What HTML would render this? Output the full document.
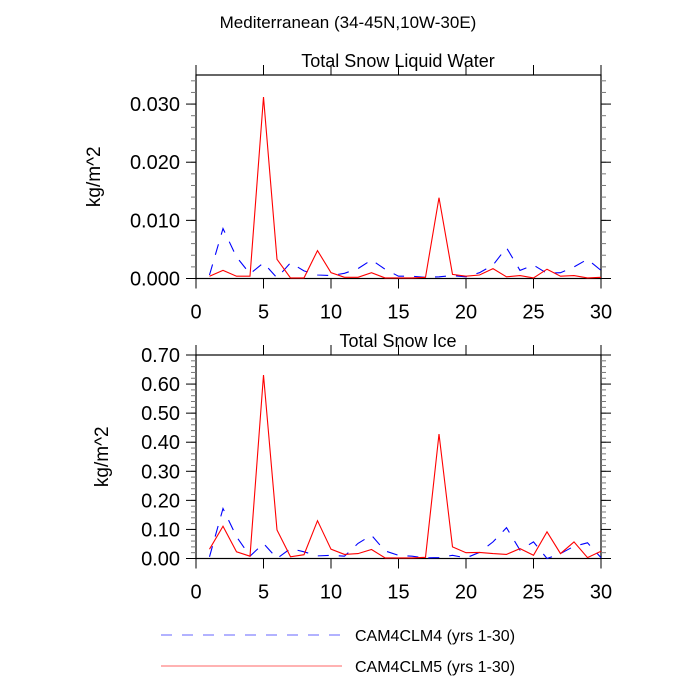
<!DOCTYPE html>
<html><head><meta charset="utf-8"><style>
body{margin:0;background:#fff}
svg{display:block;font-family:"Liberation Sans",sans-serif}
</style></head><body>
<svg id="chart" width="700" height="700" viewBox="0 0 700 700">
<text x="348" y="28" font-size="17" text-anchor="middle">Mediterranean (34-45N,10W-30E)</text>
<g id="legend">
<line x1="161" y1="635" x2="342" y2="635" stroke="#6666ff" stroke-width="1" stroke-dasharray="11,10"/>
<text x="355" y="641" font-size="16">CAM4CLM4 (yrs 1-30)</text>
<line x1="161" y1="666" x2="342" y2="666" stroke="#ff6666" stroke-width="1"/>
<text x="355" y="672" font-size="16">CAM4CLM5 (yrs 1-30)</text>
</g>
</svg>
<script>
const years=[];for(let i=1;i<=30;i++)years.push(i);
const xTicks=[0,5,10,15,20,25,30];
const liqClm4=[0.0006,0.0086,0.0037,0.0008,0.0027,0.0001,0.0027,0.0013,0.0006,0.0005,0.0009,0.0017,0.0032,0.0016,0.0004,0.0004,0.0002,0.0003,0.0005,0.0003,0.001,0.0023,0.0053,0.0014,0.0023,0.0009,0.001,0.002,0.0033,0.0014];
const liqClm5=[0.0004,0.0014,0.0004,0.0004,0.0312,0.0033,0.0001,0.0001,0.0048,0.001,0.0002,0.0002,0.001,0.0001,0.0001,0.0001,0.0002,0.0139,0.0007,0.0004,0.0006,0.0017,0.0003,0.0005,0.0001,0.0016,0.0004,0.0005,0.0001,0.0002];
const liqTicks=["0.000","0.010","0.020","0.030"];
const iceClm4=[0.006,0.172,0.075,0.008,0.052,0.0,0.034,0.023,0.009,0.011,0.008,0.052,0.08,0.026,0.011,0.008,0.002,0.003,0.011,0.002,0.021,0.057,0.106,0.029,0.057,0.0,0.017,0.042,0.054,0.003];
const iceClm5=[0.032,0.111,0.023,0.008,0.631,0.098,0.006,0.013,0.13,0.032,0.014,0.017,0.031,0.002,0.002,0.002,0.004,0.428,0.04,0.02,0.021,0.017,0.014,0.034,0.011,0.092,0.017,0.057,0.003,0.025];
const iceTicks=["0.00","0.10","0.20","0.30","0.40","0.50","0.60","0.70"];

const NS="http://www.w3.org/2000/svg";
const svg=document.getElementById('chart');
function mk(tag,attrs,parent){const e=document.createElementNS(NS,tag);for(const k in attrs)e.setAttribute(k,attrs[k]);(parent||svg).appendChild(e);return e;}

function panel(cfg){
  const g=mk('g',{});
  
  
  const L=196,R=601,T=cfg.top,B=cfg.bottom;
  const sx=v=>L+(v-0)/30*(R-L);
  const sy=v=>B-(v/cfg.ymax)*(B-T);
  const t=mk('text',{x:398,y:T-8,'font-size':18,'text-anchor':'middle'},g);t.textContent=cfg.title;
  
  
  const f=mk('rect',{x:L,y:T,width:R-L,height:B-T,fill:'none',stroke:'#000','stroke-width':1.2},g);
  
  
  xTicks.forEach(v=>{
    const x=sx(v);
    mk('line',{x1:x,y1:B,x2:x,y2:B+10,stroke:'#000'},g);
    mk('line',{x1:x,y1:T,x2:x,y2:T-10,stroke:'#000'},g);
    const tl=mk('text',{x:x,y:B+40,'font-size':20,'text-anchor':'middle'},g);tl.textContent=v;
    
    
  });
  for(let v=0;v<=cfg.ymax+1e-9;v+=cfg.minor){
    const y=sy(v);
    mk('line',{x1:L,y1:y,x2:L-5,y2:y,stroke:'#777'},g);
    mk('line',{x1:R,y1:y,x2:R+5,y2:y,stroke:'#777'},g);
  }
  cfg.ticks.forEach(s=>{
    const y=sy(parseFloat(s));
    mk('line',{x1:L,y1:y,x2:L-10,y2:y,stroke:'#000'},g);
    mk('line',{x1:R,y1:y,x2:R+10,y2:y,stroke:'#000'},g);
    const tl=mk('text',{x:L-16,y:y+7,'font-size':20,'text-anchor':'end'},g);tl.textContent=s;
    
    
  });
  const yl=mk('text',{x:0,y:0,'font-size':19,'text-anchor':'middle',transform:`translate(${cfg.ylx},${(T+B)/2}) rotate(-90)`},g);yl.textContent='kg/m^2';
  
  
  const pts=a=>a.map((v,i)=>sx(years[i]).toFixed(1)+','+sy(v).toFixed(1)).join(' ');
  const b=mk('polyline',{points:pts(cfg.s4),fill:'none',stroke:'#0000ff','stroke-width':1.1,'stroke-dasharray':'11,10'},g);
  
  
  const r=mk('polyline',{points:pts(cfg.s5),fill:'none',stroke:'#ff0000','stroke-width':1.1},g);
  
  
}
panel({name:'panel-snow-liquid-water',title:'Total Snow Liquid Water',top:75,bottom:278.5,ymax:0.035,minor:0.002,ticks:liqTicks,s4:liqClm4,s5:liqClm5,ylx:100});
panel({name:'panel-snow-ice',title:'Total Snow Ice',top:355,bottom:558.5,ymax:0.70,minor:0.02,ticks:iceTicks,s4:iceClm4,s5:iceClm5,ylx:108});
</script>
</body></html>
